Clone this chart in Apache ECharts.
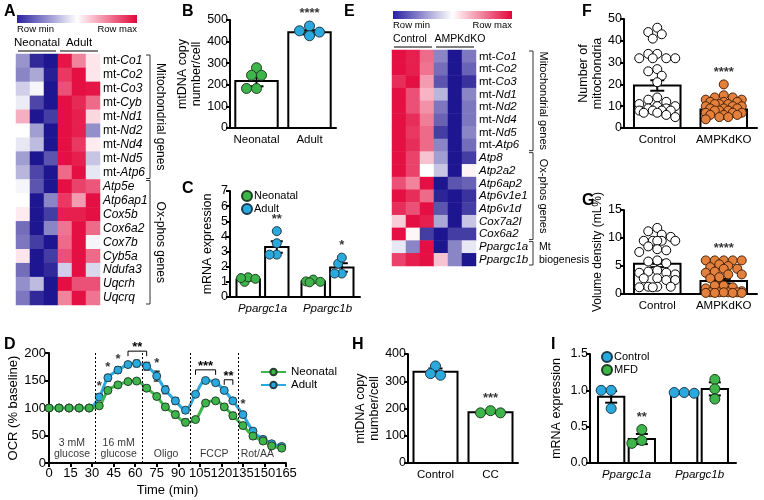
<!DOCTYPE html>
<html><head><meta charset="utf-8">
<script src="https://cdn.jsdelivr.net/npm/echarts@6/dist/echarts.min.js"></script>
<style>html,body{margin:0;padding:0;background:#fff}#c{width:764px;height:500px}</style>
</head><body><div id="c"></div>
<script>
// ================= DATA =================
const heatColsA = ['Neonatal 1','Neonatal 2','Neonatal 3','Adult 1','Adult 2','Adult 3'];
const heatGroupsA = ['Neonatal','Adult'];
const genesA = ['mt-Co1','mt-Co2','mt-Co3','mt-Cyb','mt-Nd1','mt-Nd2','mt-Nd4','mt-Nd5','mt-Atp6','Atp5e','Atp6ap1','Cox5b','Cox6a2','Cox7b','Cyb5a','Ndufa3','Uqcrh','Uqcrq'];
const heatA = [
 [0.28,0.06,0.02,0.97,0.75,0.55],
 [0.25,0.32,0.04,0.90,0.98,0.55],
 [0.40,0.48,0.02,0.85,0.98,0.97],
 [0.46,0.12,0.02,0.98,0.93,0.80],
 [0.66,0.02,0.10,0.98,0.95,0.58],
 [0.50,0.30,0.02,0.98,0.95,0.27],
 [0.45,0.36,0.02,0.98,0.90,0.54],
 [0.30,0.02,0.15,0.98,0.95,0.38],
 [0.35,0.12,0.02,0.80,0.98,0.45],
 [0.48,0.15,0.02,0.98,0.88,0.84],
 [0.50,0.02,0.25,0.90,0.70,0.98],
 [0.54,0.02,0.10,0.95,0.95,0.98],
 [0.20,0.02,0.25,0.78,0.98,0.80],
 [0.22,0.10,0.02,0.80,0.98,0.48],
 [0.55,0.02,0.10,0.85,0.98,0.80],
 [0.20,0.02,0.06,0.40,0.98,0.42],
 [0.27,0.36,0.02,0.98,0.85,0.85],
 [0.22,0.06,0.02,0.75,0.98,0.78]
];
const sectionsA = [['Mitochondrial genes',0,8],['Ox-phos genes',9,17]];

const heatColsE = ['Control 1','Control 2','Control 3','AMPKdKO 1','AMPKdKO 2','AMPKdKO 3'];
const heatGroupsE = ['Control','AMPKdKO'];
const genesE = ['mt-Co1','mt-Co2','mt-Co3','mt-Nd1','mt-Nd2','mt-Nd4','mt-Nd5','mt-Atp6','Atp8','Atp2a2','Atp6ap2','Atp6v1e1','Atp6v1d','Cox7a2l','Cox6a2','Ppargc1a','Ppargc1b'];
const heatE = [
 [0.98,0.95,0.80,0.25,0.02,0.22],
 [0.98,0.95,0.78,0.20,0.02,0.18],
 [0.92,0.98,0.70,0.15,0.02,0.08],
 [0.98,0.85,0.65,0.35,0.02,0.25],
 [0.98,0.85,0.72,0.22,0.02,0.22],
 [0.98,0.92,0.76,0.18,0.02,0.22],
 [0.98,0.90,0.80,0.10,0.02,0.25],
 [0.98,0.92,0.80,0.25,0.02,0.20],
 [0.98,0.88,0.62,0.30,0.02,0.10],
 [0.98,0.88,0.50,0.38,0.02,0.52],
 [0.85,0.75,0.98,0.02,0.15,0.18],
 [0.98,0.92,0.80,0.05,0.02,0.08],
 [0.92,0.85,0.98,0.15,0.02,0.10],
 [0.60,0.98,0.95,0.32,0.02,0.38],
 [0.98,0.52,0.10,0.02,0.10,0.10],
 [0.45,0.25,0.98,0.02,0.25,0.45],
 [0.88,0.95,0.98,0.62,0.25,0.02]
];
const sectionsE = [['Mitochondrial genes',0,7],['Ox-phos genes',8,14],['Mt\nbiogenesis',15,16]];

// B
const bGroups = ['Neonatal','Adult'];
const bMean = [218, 443];
const bSem = [25, 10];
const bNeoPts = [279, 244, 244, 183, 183];
const bAduPts = [472, 427, 450, 444];
const bSig = ['', '****'];

// C
const cGenes = ['Ppargc1a','Ppargc1b'];
const cNeoMean = [1.15, 1.03], cNeoSem = [0.07, 0.05];
const cAduMean = [3.3, 1.95], cAduSem = [0.38, 0.28];
const cNeoPts = [[1.0,1.3,1.2,1.25],[1.03,1.15,1.0,0.97]];
const cAduPts = [[4.35,3.55,2.8,2.8],[2.2,2.6,1.55,1.55]];
const cAduSig = ['**','*'];

// D
const dTime = [0,7,14,21,28,35,41,48,55,61,68,75,81,88,95,102,109,116,122,128,135,142,149,155,162];
const dNeo = [100,100,100,100,100,104,132,142,148,149,136,121,102,88,74,79,109,113,102,86,68,49,40,31,27];
const dNeoSem = [2,2,2,2,2,3,3,3,3,3,3,4,5,6,6,3,3,3,5,6,5,5,3,3,3];
const dAdu = [100,100,100,100,100,120,155,169,179,181,176,158,133,113,96,125,150,146,132,113,88,58,43,35,30];
const dAduSem = [2,2,2,2,2,5,6,6,5,6,7,9,7,6,5,4,3,3,3,3,4,3,3,3,3];
const dStageBounds = [0,32,65,98,132,158];
const dStages = ['3 mM\nglucose','16 mM\nglucose','Oligo','FCCP','Rot/AA'];
const dSigPts = [[35,'*'],[41,'*'],[48,'*'],[75,'*'],[135,'*']];
const dSigBrackets = [[55,68,'**'],[102,116,'***'],[122,128,'**']];

// F
const fGroups = ['Control','AMPKdKO'];
const fMean = [19.5, 8.5], fSem = [2.4, 0.9];
const fCtrlPts = [46,44,43,41,34,34,32,32,32,32,27,26,24,21,14,13,12,11,10,10,9,9,8,8,8,8,7,7,6,5];
const fKoPts = [20,15,14,14,13,13,12,12,12,11,11,11,10,10,10,9,9,9,8,8,8,7,7,7,6,6,6,5,5,4];
const fSig = ['','****'];

// G
const gMean = [5.4, 2.3], gSem = [0.6, 0.4];
const gCtrlPts = [11.8,11.2,10.6,10.2,9.5,9.5,9.5,9.5,9.5,8.5,8.0,7.8,7.5,6.0,5.8,5.5,4.2,4.0,3.8,3.8,3.5,2.8,2.8,2.5,2.5,1.3,1.3,1.3,1.2,1.2];
const gKoPts = [6,6,6,6,6,5.3,5,4.8,4.5,4.5,4,3.8,3.5,3.5,3,2.8,1.5,1.5,1.2,1.0,0.5,0.3,0.3,0.3,0.3,0.3,0.2,0.2,0.2,0.2];
const gSig = ['','****'];

// H
const hGroups = ['Control','CC'];
const hMean = [335, 186], hSem = [12, 3];
const hCtrlPts = [322, 356, 328];
const hCcPts = [184, 192, 184];
const hSig = ['','***'];

// I
const iGenes = ['Ppargc1a','Ppargc1b'];
const iCtrlMean = [0.91, 0.96], iCtrlSem = [0.08, 0.01];
const iMfdMean = [0.33, 1.02], iMfdSem = [0.07, 0.09];
const iCtrlPts = [[1.0,1.0,0.75],[0.97,0.97,0.96]];
const iMfdPts = [[0.46,0.27,0.31],[1.15,1.02,0.88]];
const iMfdSig = ['**',''];

// ================= STYLE / LAYOUT =================
const FONT = '"Liberation Sans", Arial, Helvetica, sans-serif';
const GREEN = '#3db54a', BLUE = '#2aa9df', ORANGE = '#e3803c';
const NAVY = '#150c8c', RED = '#e3063b';
const LAY = {
 A:{left:16, top:54, width:84, height:251},
 E:{left:392, top:50, width:84, height:216},
 B:{left:230, top:20, width:106, height:108},
 C:{left:230, top:191, width:130, height:106},
 D:{left:49, top:353, width:237, height:110},
 F:{left:624, top:19, width:133, height:109},
 G:{left:624, top:210, width:133, height:84},
 H:{left:408, top:354, width:110, height:109},
 I:{left:590, top:354, width:146, height:109}
};

const grids=[], xAxes=[], yAxes=[], series=[], graphics=[], legends=[], heatIdx=[];
function addGrid(g){ grids.push({left:g.left, top:g.top, width:g.width, height:g.height, containLabel:false, outerBoundsMode:'none'}); return grids.length-1; }
const axLine = {show:true, onZero:false, lineStyle:{color:'#000', width:2}};
const axTick = {show:true, length:4, lineStyle:{color:'#000', width:2}};

function swarm(vals, pxY, d, maxHalf){
  const order = vals.map((v,i)=>i).sort((a,b)=>vals[b]-vals[a]);
  const placed=[]; const off=new Array(vals.length).fill(0);
  const step=d*0.5, minD=d*0.85;
  order.forEach(i=>{
    const y=vals[i]*pxY; let best=0, bestScore=-1, found=false;
    for(let k=0; k*step<=maxHalf && !found; k++){
      const cands = k===0?[0]:[-k*step,k*step];
      for(const x of cands){
        let md=Infinity; placed.forEach(p=>{const dd=Math.hypot(p[0]-x,p[1]-y); if(dd<md) md=dd;});
        if(md>=minD){best=x; found=true; break;}
        if(md>bestScore){bestScore=md; best=x;}
      }
    }
    off[i]=best; placed.push([best,y]);
  });
  return off;
}
function barRender(w){ return (p,api)=>{ const x=api.value(0), m=api.value(1);
  const a=api.coord([x-w/2,m]), b=api.coord([x+w/2,0]);
  return {type:'rect', shape:{x:a[0],y:a[1],width:b[0]-a[0],height:b[1]-a[1]}, style:{fill:'#fff',stroke:'#000',lineWidth:2}}; }; }
function errRender(cap, lw){ return (p,api)=>{ const x=api.value(0), m=api.value(1), s=api.value(2);
  const t=api.coord([x,m+s]), b=api.coord([x,m-s]); const st={stroke:'#000',lineWidth:lw};
  return {type:'group', children:[
   {type:'line', shape:{x1:t[0],y1:t[1],x2:b[0],y2:b[1]}, style:st},
   {type:'line', shape:{x1:t[0]-cap/2,y1:t[1],x2:t[0]+cap/2,y2:t[1]}, style:st},
   {type:'line', shape:{x1:b[0]-cap/2,y1:b[1],x2:b[0]+cap/2,y2:b[1]}, style:st}]}; }; }

function barPanel(o){
  const gi=addGrid(o.grid); const n=o.cats.length;
  xAxes.push({gridIndex:gi, type:'category', data:o.cats, axisLine:axLine, axisTick:{show:false}, splitLine:{show:false},
    axisLabel:{color:'#000', fontFamily:FONT, fontSize:o.catFont||11.5, fontStyle:o.italic?'italic':'normal', margin:6, interval:0}});
  const xv=xAxes.length; xAxes.push({gridIndex:gi, type:'value', min:-0.5, max:n-0.5, show:false});
  const yi=yAxes.length; yAxes.push({gridIndex:gi, type:'value', min:o.ymin, max:o.ymax, interval:o.yint,
    name:o.yName, nameLocation:'middle', nameGap:o.yNameGap, nameRotate:90,
    nameTextStyle:{color:'#000', fontFamily:FONT, fontSize:o.nameFont||12.5, lineHeight:14},
    axisLine:axLine, axisTick:axTick, splitLine:{show:false},
    axisLabel:{color:'#000', fontFamily:FONT, fontSize:12.5, margin:2, formatter:o.yFmt}});
  const pxX=o.grid.width/n, pxY=o.grid.height/(o.ymax-o.ymin);
  o.groups.forEach(g=>{
    const barData=[], errData=[], ptData=[], sigData=[];
    o.cats.forEach((cat,c)=>{
      const x=c+g.offset;
      barData.push([x,g.mean[c]]); errData.push([x,g.mean[c],g.sem[c]]);
      const col=Array.isArray(g.color)?g.color[c]:g.color;
      const bcol=Array.isArray(g.border)?g.border[c]:g.border;
      const offs=swarm(g.pts[c], pxY, o.dot*o.spread, o.maxHalf);
      g.pts[c].forEach((v,i)=>ptData.push({value:[x+offs[i]/pxX, v], itemStyle:{color:col, borderColor:bcol}}));
      if(g.sig && g.sig[c]){ const top=Math.max(...g.pts[c]); sigData.push({value:[x, top], label:{formatter:g.sig[c]}}); }
    });
    series.push({type:'custom', xAxisIndex:xv, yAxisIndex:yi, z:2, silent:true, data:barData, renderItem:barRender(o.barW)});
    series.push({type:'custom', xAxisIndex:xv, yAxisIndex:yi, z:3, silent:true, data:errData, renderItem:errRender(o.cap,2)});
    series.push({type:'scatter', name:g.name, xAxisIndex:xv, yAxisIndex:yi, z:4, silent:true, symbol:'circle', symbolSize:o.dot, data:ptData,
      itemStyle:{color:Array.isArray(g.color)?g.color[0]:g.color, borderColor:Array.isArray(g.border)?g.border[0]:g.border, borderWidth:1, opacity:1}});
    if(sigData.length) series.push({type:'scatter', xAxisIndex:xv, yAxisIndex:yi, z:5, silent:true, symbolSize:0, data:sigData,
      label:{show:true, position:'top', distance:o.dot/2+1, color:'#000', fontFamily:FONT, fontSize:13, fontWeight:'bold'}});
  });
}

function geneFmt(name){ return name.startsWith('mt-') ? '{n|mt-}{i|'+name.slice(3)+'}' : '{i|'+name+'}'; }
function heatPanel(o){
  const g=o.grid; const gi=addGrid(g);
  const xi=xAxes.length; xAxes.push({gridIndex:gi, type:'category', data:o.cols, show:false});
  const fs=o.fontSize;
  const yi=yAxes.length; yAxes.push({gridIndex:gi, type:'category', data:o.genes, inverse:true, position:'right',
    axisLine:{show:false}, axisTick:{show:false}, splitLine:{show:false},
    axisLabel:{margin:3, interval:0, formatter:geneFmt, rich:{n:{fontFamily:FONT,fontSize:fs,color:'#000'}, i:{fontFamily:FONT,fontSize:fs,fontStyle:'italic',color:'#000'}}}});
  const data=[]; o.values.forEach((row,r)=>row.forEach((v,c)=>data.push([c,r,v])));
  series.push({type:'heatmap', xAxisIndex:xi, yAxisIndex:yi, data, silent:true, itemStyle:{borderWidth:0}, emphasis:{disabled:true}});
  heatIdx.push(series.length-1);
  const cb=o.cbar;
  graphics.push({type:'rect', shape:{x:cb.x,y:cb.y,width:cb.w,height:cb.h}, style:{fill:new echarts.graphic.LinearGradient(0,0,1,0,[{offset:0,color:'#2a22a0'},{offset:0.5,color:'#ffffff'},{offset:1,color:RED}])}});
  graphics.push({type:'text', x:cb.x, y:cb.y+cb.h+1, style:{text:'Row min', font:'9.5px '+FONT, fill:'#000', align:'left', verticalAlign:'top'}});
  graphics.push({type:'text', x:cb.x+cb.w, y:cb.y+cb.h+1, style:{text:'Row max', font:'9.5px '+FONT, fill:'#000', align:'right', verticalAlign:'top'}});
  const cw=g.width/o.cols.length, rh=g.height/o.genes.length;
  o.groups.forEach((name,k)=>{
    const x0=g.left+k*3*cw, x1=x0+3*cw;
    graphics.push({type:'text', x:(x0+x1)/2+o.groupShift[k], y:g.top-5, style:{text:name, font:o.groupFont+'px '+FONT, fill:'#000', align:'center', verticalAlign:'bottom'}});
    graphics.push({type:'line', shape:{x1:x0+2,y1:g.top-3,x2:x1-2,y2:g.top-3}, style:{stroke:'#000',lineWidth:1.2}});
  });
  o.sections.forEach(([label,r0,r1])=>{
    const y0=g.top+r0*rh+1, y1=g.top+(r1+1)*rh-1, bx=o.bracketX;
    graphics.push({type:'polyline', shape:{points:[[bx-4,y0],[bx,y0],[bx,y1],[bx-4,y1]]}, style:{stroke:'#333',lineWidth:1,fill:null}});
    if(label.indexOf('\n')<0){
      graphics.push({type:'text', x:bx+10, y:(y0+y1)/2, rotation:-Math.PI/2, style:{text:label, font:o.sectFont+'px '+FONT, fill:'#000', align:'center', verticalAlign:'middle'}});
    } else {
      graphics.push({type:'text', x:bx+6, y:(y0+y1)/2, style:{text:label, font:'10.5px '+FONT, fill:'#000', align:'left', verticalAlign:'middle', lineHeight:rh}});
    }
  });
  graphics.push({type:'text', x:o.letter[0], y:o.letter[1], style:{text:o.letterText, font:'bold 16px '+FONT, fill:'#000'}});
}

// ================= BUILD =================
heatPanel({grid:LAY.A, cols:heatColsA, genes:genesA, values:heatA, groups:heatGroupsA, sections:sectionsA, fontSize:12, groupFont:11.5, sectFont:12, groupShift:[0,0],
  cbar:{x:17,y:15,w:120,h:8}, bracketX:150, letter:[4,4], letterText:'A'});
heatPanel({grid:LAY.E, cols:heatColsE, genes:genesE, values:heatE, groups:heatGroupsE, sections:sectionsE, fontSize:11.5, groupFont:10.5, sectFont:11, groupShift:[-3,5],
  cbar:{x:393,y:11,w:119,h:8}, bracketX:533, letter:[344,4], letterText:'E'});

barPanel({grid:LAY.B, cats:bGroups, ymin:0, ymax:500, yint:100, yName:'mtDNA copy\nnumber/cell', yNameGap:21,
  barW:0.8, cap:14, dot:10, spread:1, maxHalf:16,
  groups:[{name:'B', offset:0, mean:bMean, sem:bSem, pts:[bNeoPts,bAduPts], color:[GREEN,BLUE], border:['#1f3d22','#1d3b4a'], sig:bSig}]});
barPanel({grid:LAY.C, cats:cGenes, italic:true, ymin:0, ymax:7, yint:1, yName:'mRNA expression', yNameGap:15,
  barW:0.36, cap:12, dot:9, spread:0.8, maxHalf:10,
  groups:[{name:'C-Neonatal', offset:-0.22, mean:cNeoMean, sem:cNeoSem, pts:cNeoPts, color:GREEN, border:'#1f3d22'},
          {name:'C-Adult', offset:0.22, mean:cAduMean, sem:cAduSem, pts:cAduPts, color:BLUE, border:'#1d3b4a', sig:cAduSig}]});
barPanel({grid:LAY.F, cats:fGroups, ymin:0, ymax:50, yint:10, yName:'Number of\nmitochondria', yNameGap:18,
  barW:0.7, cap:14, dot:9, spread:1, maxHalf:22,
  groups:[{name:'F', offset:0, mean:fMean, sem:fSem, pts:[fCtrlPts,fKoPts], color:['#ffffff',ORANGE], border:['#000','#4a2208'], sig:fSig}]});
barPanel({grid:LAY.G, cats:fGroups, ymin:0, ymax:15, yint:5, yName:'Volume density (mL%)', yNameGap:13, nameFont:12,
  barW:0.7, cap:14, dot:9, spread:1, maxHalf:22,
  groups:[{name:'G', offset:0, mean:gMean, sem:gSem, pts:[gCtrlPts,gKoPts], color:['#ffffff',ORANGE], border:['#000','#4a2208'], sig:gSig}]});
barPanel({grid:LAY.H, cats:hGroups, ymin:0, ymax:400, yint:100, yName:'mtDNA copy\nnumber/cell', yNameGap:20,
  barW:0.8, cap:14, dot:10, spread:1, maxHalf:18,
  groups:[{name:'H', offset:0, mean:hMean, sem:hSem, pts:[hCtrlPts,hCcPts], color:[BLUE,GREEN], border:['#1d3b4a','#1f3d22'], sig:hSig}]});
barPanel({grid:LAY.I, cats:iGenes, italic:true, ymin:0, ymax:1.5, yint:0.5, yName:'mRNA expression', yNameGap:26, yFmt:v=>v.toFixed(1),
  barW:0.36, cap:12, dot:10, spread:1, maxHalf:12,
  groups:[{name:'I-Control', offset:-0.21, mean:iCtrlMean, sem:iCtrlSem, pts:iCtrlPts, color:BLUE, border:'#1d3b4a'},
          {name:'I-MFD', offset:0.21, mean:iMfdMean, sem:iMfdSem, pts:iMfdPts, color:GREEN, border:'#1f3d22', sig:iMfdSig}]});

// ---- D line chart ----
(function(){
  const gi=addGrid(LAY.D);
  const xi=xAxes.length; xAxes.push({gridIndex:gi, type:'value', min:0, max:165, interval:15, axisLine:axLine, axisTick:axTick, splitLine:{show:false},
    axisLabel:{color:'#000', fontFamily:FONT, fontSize:13, margin:4}, name:'Time (min)', nameLocation:'middle', nameGap:21,
    nameTextStyle:{color:'#000', fontFamily:FONT, fontSize:13}});
  const yi=yAxes.length; yAxes.push({gridIndex:gi, type:'value', min:0, max:200, interval:50, axisLine:axLine, axisTick:axTick, splitLine:{show:false},
    axisLabel:{color:'#000', fontFamily:FONT, fontSize:13, margin:3}, name:'OCR (% baseline)', nameLocation:'middle', nameGap:28, nameRotate:90,
    nameTextStyle:{color:'#000', fontFamily:FONT, fontSize:13}});
  const errD=[]; dTime.forEach((t,i)=>{errD.push([t,dAdu[i],dAduSem[i]]); errD.push([t,dNeo[i],dNeoSem[i]]);});
  series.push({type:'custom', xAxisIndex:xi, yAxisIndex:yi, z:2, silent:true, data:errD, renderItem:errRender(6,1.2)});
  series.push({type:'line', name:'Adult', xAxisIndex:xi, yAxisIndex:yi, z:3, silent:true, smooth:0.35,
    data:dTime.map((t,i)=>[t,dAdu[i]]), symbol:'circle', symbolSize:8,
    lineStyle:{color:BLUE, width:3}, itemStyle:{color:BLUE, borderColor:'#27404a', borderWidth:1}});
  series.push({type:'line', name:'Neonatal', xAxisIndex:xi, yAxisIndex:yi, z:4, silent:true, smooth:0.35,
    data:dTime.map((t,i)=>[t,dNeo[i]]), symbol:'circle', symbolSize:8,
    lineStyle:{color:GREEN, width:3}, itemStyle:{color:GREEN, borderColor:'#25402a', borderWidth:1},
    markLine:{silent:true, symbol:'none', label:{show:false}, lineStyle:{type:[2,2], color:'#000', width:1},
      data:dStageBounds.slice(1,-1).map(b=>({xAxis:b}))}});
  series.push({type:'scatter', xAxisIndex:xi, yAxisIndex:yi, z:5, silent:true, symbolSize:0,
    data:dStages.map((s,k)=>({value:[(dStageBounds[k]+dStageBounds[k+1])/2, 0], label:{formatter:s}})),
    label:{show:true, position:'top', distance:3, color:'#000', fontFamily:FONT, fontSize:10.5, lineHeight:11}});
  series.push({type:'scatter', xAxisIndex:xi, yAxisIndex:yi, z:5, silent:true, symbolSize:0,
    data:dSigPts.map(([t,s])=>{const i=dTime.indexOf(t); return {value:[t,dAdu[i]+dAduSem[i]], label:{formatter:s}};}),
    label:{show:true, position:'top', distance:1, color:'#000', fontFamily:FONT, fontSize:13, fontWeight:'bold'}});
  series.push({type:'custom', xAxisIndex:xi, yAxisIndex:yi, z:5, silent:true,
    data:dSigBrackets.map(([t1,t2,s])=>{let m=0; dTime.forEach((t,i)=>{if(t>=t1&&t<=t2) m=Math.max(m,dAdu[i]+dAduSem[i]);}); return [t1,t2,m];}),
    renderItem:(p,api)=>{ const t1=api.value(0), t2=api.value(1), m=api.value(2); const s=dSigBrackets[p.dataIndex][2];
      const a=api.coord([t1,m]), b=api.coord([t2,m]); const y=a[1]-9;
      return {type:'group', children:[
        {type:'polyline', shape:{points:[[a[0],y+5],[a[0],y],[b[0],y],[b[0],y+5]]}, style:{stroke:'#000',lineWidth:1,fill:null}},
        {type:'text', style:{x:(a[0]+b[0])/2, y:y+3, text:s, align:'center', verticalAlign:'bottom', font:'bold 13px '+FONT, fill:'#000'}}]}; }});
})();

// ---- legends ----
const legText = {color:'#000', fontFamily:FONT, fontSize:11, padding:[0,0,0,-3]};
legends.push({left:236, top:185, orient:'vertical', data:['C-Neonatal','C-Adult'], formatter:n=>n.slice(2), icon:'circle', itemWidth:10, itemHeight:10, itemGap:1, textStyle:legText, selectedMode:false});
legends.push({left:596, top:346, orient:'vertical', data:['I-Control','I-MFD'], formatter:n=>n.slice(2), icon:'circle', itemWidth:10, itemHeight:10, itemGap:1, textStyle:legText, selectedMode:false});
legends.push({left:255, top:361, orient:'vertical', data:['Neonatal','Adult'], itemWidth:25, itemHeight:8, itemGap:1, textStyle:{color:'#000', fontFamily:FONT, fontSize:11.5}, selectedMode:false});

// ---- panel letters ----
[['B',182,4],['C',182,181],['D',4,337],['F',582,4],['G',582,193],['H',352,337],['I',551,337]].forEach(([t,x,y])=>{
  graphics.push({type:'text', x, y, style:{text:t, font:'bold 16px '+FONT, fill:'#000'}});
});

const chart = echarts.init(document.getElementById('c'), null, {renderer:'canvas', width:764, height:500});
chart.setOption({
  animation:false, backgroundColor:'#fff', textStyle:{fontFamily:FONT},
  grid:grids, xAxis:xAxes, yAxis:yAxes, series, legend:legends, graphic:graphics,
  visualMap:[{type:'continuous', min:0, max:1, dimension:2, seriesIndex:heatIdx, show:false, inRange:{color:[NAVY,'#ffffff',RED]}}]
});
</script></body></html>
